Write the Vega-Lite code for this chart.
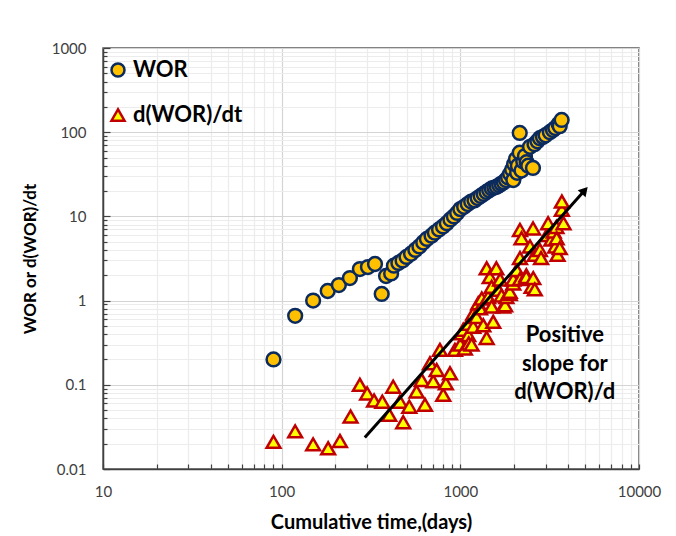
{
  "$schema": "https://vega.github.io/schema/vega-lite/v6.json",
  "width": 536,
  "height": 421,
  "autosize": {"type": "none"},
  "padding": {"left": 103, "top": 48, "right": 37, "bottom": 67},
  "background": "white",
  "config": {
    "font": "Lato",
    "view": {"stroke": "#595959", "strokeWidth": 1.5},
    "axis": {
      "labelFont": "Lato", "titleFont": "Lato",
      "labelFontSize": 15, "labelColor": "#404040",
      "titleFontSize": 17, "titleFontWeight": "bold", "titleColor": "#000000",
      "domainColor": "#404040", "domainWidth": 1.5,
      "tickColor": "#404040", "tickWidth": 1.2,
      "labelOverlap": false, "labelBound": false, "labelFlush": false
    }
  },
  "datasets": {
    "pts": [
      {"t": 90, "v": 0.20, "series": "WOR"},
      {"t": 119, "v": 0.66, "series": "WOR"},
      {"t": 150, "v": 1.0, "series": "WOR"},
      {"t": 181, "v": 1.3, "series": "WOR"},
      {"t": 209, "v": 1.53, "series": "WOR"},
      {"t": 241, "v": 1.85, "series": "WOR"},
      {"t": 274, "v": 2.37, "series": "WOR"},
      {"t": 304, "v": 2.5, "series": "WOR"},
      {"t": 333, "v": 2.72, "series": "WOR"},
      {"t": 363, "v": 1.2, "series": "WOR"},
      {"t": 384, "v": 1.96, "series": "WOR"},
      {"t": 410, "v": 2.1, "series": "WOR"},
      {"t": 425, "v": 2.6, "series": "WOR"},
      {"t": 450, "v": 2.8, "series": "WOR"},
      {"t": 475, "v": 3.0, "series": "WOR"},
      {"t": 500, "v": 3.3, "series": "WOR"},
      {"t": 530, "v": 3.6, "series": "WOR"},
      {"t": 560, "v": 4.0, "series": "WOR"},
      {"t": 590, "v": 4.4, "series": "WOR"},
      {"t": 620, "v": 4.9, "series": "WOR"},
      {"t": 650, "v": 5.4, "series": "WOR"},
      {"t": 690, "v": 5.9, "series": "WOR"},
      {"t": 720, "v": 6.4, "series": "WOR"},
      {"t": 760, "v": 7.0, "series": "WOR"},
      {"t": 800, "v": 7.6, "series": "WOR"},
      {"t": 840, "v": 8.3, "series": "WOR"},
      {"t": 880, "v": 9.2, "series": "WOR"},
      {"t": 920, "v": 10.0, "series": "WOR"},
      {"t": 960, "v": 11.0, "series": "WOR"},
      {"t": 1000, "v": 12.2, "series": "WOR"},
      {"t": 1050, "v": 13.0, "series": "WOR"},
      {"t": 1100, "v": 14.0, "series": "WOR"},
      {"t": 1150, "v": 15.0, "series": "WOR"},
      {"t": 1200, "v": 15.5, "series": "WOR"},
      {"t": 1250, "v": 16.5, "series": "WOR"},
      {"t": 1300, "v": 17.5, "series": "WOR"},
      {"t": 1350, "v": 18.5, "series": "WOR"},
      {"t": 1400, "v": 19.5, "series": "WOR"},
      {"t": 1450, "v": 20.5, "series": "WOR"},
      {"t": 1500, "v": 21.5, "series": "WOR"},
      {"t": 1550, "v": 22.0, "series": "WOR"},
      {"t": 1600, "v": 22.5, "series": "WOR"},
      {"t": 1650, "v": 23.5, "series": "WOR"},
      {"t": 1700, "v": 24.5, "series": "WOR"},
      {"t": 1750, "v": 25.5, "series": "WOR"},
      {"t": 1800, "v": 27, "series": "WOR"},
      {"t": 1850, "v": 29, "series": "WOR"},
      {"t": 1900, "v": 32, "series": "WOR"},
      {"t": 1950, "v": 36, "series": "WOR"},
      {"t": 1980, "v": 27, "series": "WOR"},
      {"t": 2000, "v": 42, "series": "WOR"},
      {"t": 2050, "v": 48, "series": "WOR"},
      {"t": 2080, "v": 33, "series": "WOR"},
      {"t": 2100, "v": 40, "series": "WOR"},
      {"t": 2150, "v": 98, "series": "WOR"},
      {"t": 2150, "v": 57, "series": "WOR"},
      {"t": 2200, "v": 35, "series": "WOR"},
      {"t": 2250, "v": 45, "series": "WOR"},
      {"t": 2300, "v": 52, "series": "WOR"},
      {"t": 2350, "v": 44, "series": "WOR"},
      {"t": 2400, "v": 40, "series": "WOR"},
      {"t": 2455, "v": 67, "series": "WOR"},
      {"t": 2550, "v": 37.6, "series": "WOR"},
      {"t": 2600, "v": 72, "series": "WOR"},
      {"t": 2700, "v": 78, "series": "WOR"},
      {"t": 2786, "v": 85, "series": "WOR"},
      {"t": 2900, "v": 88, "series": "WOR"},
      {"t": 3000, "v": 92, "series": "WOR"},
      {"t": 3170, "v": 100, "series": "WOR"},
      {"t": 3300, "v": 106, "series": "WOR"},
      {"t": 3400, "v": 112, "series": "WOR"},
      {"t": 3550, "v": 125, "series": "WOR"},
      {"t": 3600, "v": 118, "series": "WOR"},
      {"t": 3690, "v": 140, "series": "WOR"},
      {"t": 90, "v": 0.021, "series": "d(WOR)/dt"},
      {"t": 119, "v": 0.028, "series": "d(WOR)/dt"},
      {"t": 150, "v": 0.0196, "series": "d(WOR)/dt"},
      {"t": 182, "v": 0.0176, "series": "d(WOR)/dt"},
      {"t": 212, "v": 0.0215, "series": "d(WOR)/dt"},
      {"t": 243, "v": 0.042, "series": "d(WOR)/dt"},
      {"t": 274, "v": 0.10, "series": "d(WOR)/dt"},
      {"t": 301, "v": 0.079, "series": "d(WOR)/dt"},
      {"t": 329, "v": 0.065, "series": "d(WOR)/dt"},
      {"t": 366, "v": 0.063, "series": "d(WOR)/dt"},
      {"t": 400, "v": 0.044, "series": "d(WOR)/dt"},
      {"t": 421, "v": 0.095, "series": "d(WOR)/dt"},
      {"t": 459, "v": 0.063, "series": "d(WOR)/dt"},
      {"t": 479, "v": 0.036, "series": "d(WOR)/dt"},
      {"t": 518, "v": 0.055, "series": "d(WOR)/dt"},
      {"t": 569, "v": 0.083, "series": "d(WOR)/dt"},
      {"t": 608, "v": 0.114, "series": "d(WOR)/dt"},
      {"t": 634, "v": 0.058, "series": "d(WOR)/dt"},
      {"t": 676, "v": 0.18, "series": "d(WOR)/dt"},
      {"t": 705, "v": 0.11, "series": "d(WOR)/dt"},
      {"t": 737, "v": 0.15, "series": "d(WOR)/dt"},
      {"t": 769, "v": 0.26, "series": "d(WOR)/dt"},
      {"t": 802, "v": 0.076, "series": "d(WOR)/dt"},
      {"t": 830, "v": 0.104, "series": "d(WOR)/dt"},
      {"t": 875, "v": 0.137, "series": "d(WOR)/dt"},
      {"t": 933, "v": 0.26, "series": "d(WOR)/dt"},
      {"t": 1000, "v": 0.30, "series": "d(WOR)/dt"},
      {"t": 1018, "v": 0.41, "series": "d(WOR)/dt"},
      {"t": 1038, "v": 0.45, "series": "d(WOR)/dt"},
      {"t": 1060, "v": 0.27, "series": "d(WOR)/dt"},
      {"t": 1107, "v": 0.39, "series": "d(WOR)/dt"},
      {"t": 1107, "v": 0.53, "series": "d(WOR)/dt"},
      {"t": 1115, "v": 0.31, "series": "d(WOR)/dt"},
      {"t": 1156, "v": 0.30, "series": "d(WOR)/dt"},
      {"t": 1181, "v": 0.49, "series": "d(WOR)/dt"},
      {"t": 1181, "v": 0.70, "series": "d(WOR)/dt"},
      {"t": 1233, "v": 0.64, "series": "d(WOR)/dt"},
      {"t": 1259, "v": 0.93, "series": "d(WOR)/dt"},
      {"t": 1288, "v": 0.81, "series": "d(WOR)/dt"},
      {"t": 1318, "v": 1.06, "series": "d(WOR)/dt"},
      {"t": 1344, "v": 0.51, "series": "d(WOR)/dt"},
      {"t": 1404, "v": 0.36, "series": "d(WOR)/dt"},
      {"t": 1404, "v": 2.42, "series": "d(WOR)/dt"},
      {"t": 1430, "v": 1.1, "series": "d(WOR)/dt"},
      {"t": 1461, "v": 1.9, "series": "d(WOR)/dt"},
      {"t": 1497, "v": 0.85, "series": "d(WOR)/dt"},
      {"t": 1497, "v": 1.46, "series": "d(WOR)/dt"},
      {"t": 1528, "v": 0.56, "series": "d(WOR)/dt"},
      {"t": 1590, "v": 2.42, "series": "d(WOR)/dt"},
      {"t": 1630, "v": 1.34, "series": "d(WOR)/dt"},
      {"t": 1670, "v": 1.78, "series": "d(WOR)/dt"},
      {"t": 1700, "v": 1.15, "series": "d(WOR)/dt"},
      {"t": 1738, "v": 0.85, "series": "d(WOR)/dt"},
      {"t": 1780, "v": 0.88, "series": "d(WOR)/dt"},
      {"t": 1810, "v": 1.1, "series": "d(WOR)/dt"},
      {"t": 1890, "v": 1.2, "series": "d(WOR)/dt"},
      {"t": 1890, "v": 1.27, "series": "d(WOR)/dt"},
      {"t": 1977, "v": 1.6, "series": "d(WOR)/dt"},
      {"t": 1977, "v": 1.78, "series": "d(WOR)/dt"},
      {"t": 2070, "v": 2.3, "series": "d(WOR)/dt"},
      {"t": 2157, "v": 1.8, "series": "d(WOR)/dt"},
      {"t": 2157, "v": 3.2, "series": "d(WOR)/dt"},
      {"t": 2157, "v": 6.9, "series": "d(WOR)/dt"},
      {"t": 2200, "v": 5.5, "series": "d(WOR)/dt"},
      {"t": 2340, "v": 2.0, "series": "d(WOR)/dt"},
      {"t": 2340, "v": 1.9, "series": "d(WOR)/dt"},
      {"t": 2455, "v": 4.4, "series": "d(WOR)/dt"},
      {"t": 2507, "v": 1.46, "series": "d(WOR)/dt"},
      {"t": 2553, "v": 7.2, "series": "d(WOR)/dt"},
      {"t": 2560, "v": 1.85, "series": "d(WOR)/dt"},
      {"t": 2610, "v": 1.36, "series": "d(WOR)/dt"},
      {"t": 2610, "v": 3.5, "series": "d(WOR)/dt"},
      {"t": 2786, "v": 4.0, "series": "d(WOR)/dt"},
      {"t": 2830, "v": 3.2, "series": "d(WOR)/dt"},
      {"t": 3050, "v": 6.0, "series": "d(WOR)/dt"},
      {"t": 3100, "v": 8.3, "series": "d(WOR)/dt"},
      {"t": 3230, "v": 5.3, "series": "d(WOR)/dt"},
      {"t": 3330, "v": 6.6, "series": "d(WOR)/dt"},
      {"t": 3400, "v": 4.4, "series": "d(WOR)/dt"},
      {"t": 3450, "v": 7.5, "series": "d(WOR)/dt"},
      {"t": 3460, "v": 5.5, "series": "d(WOR)/dt"},
      {"t": 3500, "v": 3.5, "series": "d(WOR)/dt"},
      {"t": 3600, "v": 4.2, "series": "d(WOR)/dt"},
      {"t": 3700, "v": 12.0, "series": "d(WOR)/dt"},
      {"t": 3700, "v": 15.0, "series": "d(WOR)/dt"},
      {"t": 3780, "v": 8.3, "series": "d(WOR)/dt"}
    ],
    "trend": [
      {"t": 292, "v": 0.0236},
      {"t": 4900, "v": 19.8}
    ],
    "single": [{}]
  },
  "layer": [
    {
      "data": {"name": "pts"},
      "mark": {"type": "point", "strokeWidth": 2.5, "opacity": 1, "size": 190},
      "encoding": {
        "x": {
          "field": "t", "type": "quantitative",
          "scale": {"type": "log", "domain": [10, 10000], "nice": false},
          "axis": {
            "title": "Cumulative time,(days)",
            "titleFontSize": 20,
            "titlePadding": 13,
            "values": [10,20,30,40,50,60,70,80,90,100,200,300,400,500,600,700,800,900,1000,2000,3000,4000,5000,6000,7000,8000,9000,10000],
            "labelExpr": "indexof([10,100,1000,10000], datum.value) >= 0 ? '' + datum.value : ''",
            "grid": true,
            "gridColor": {"condition": {"test": "indexof([10,100,1000,10000], datum.value) >= 0", "value": "#d4d4d4"}, "value": "#ececec"},
            "gridWidth": 1.2,
            "tickSize": -5,
            "labelPadding": 20
          }
        },
        "y": {
          "field": "v", "type": "quantitative",
          "scale": {"type": "log", "domain": [0.01, 1000], "nice": false},
          "axis": {
            "title": "WOR or d(WOR)/dt",
            "titlePadding": 12,
            "values": [0.01,0.02,0.03,0.04,0.05,0.06,0.07,0.08,0.09,0.1,0.2,0.3,0.4,0.5,0.6,0.7,0.8,0.9,1,2,3,4,5,6,7,8,9,10,20,30,40,50,60,70,80,90,100,200,300,400,500,600,700,800,900,1000],
            "labelExpr": "indexof([0.01,0.1,1,10,100,1000], datum.value) >= 0 ? '' + datum.value : ''",
            "grid": true,
            "gridColor": {"condition": {"test": "indexof([0.01,0.1,1,10,100,1000], datum.value) >= 0", "value": "#d4d4d4"}, "value": "#ececec"},
            "gridWidth": 1.2,
            "tickSize": {"condition": {"test": "indexof([0.01,0.1,1,10,100,1000], datum.value) >= 0", "value": -7}, "value": -4},
            "labelPadding": 24
          }
        },
        "shape": {
          "field": "series", "type": "nominal",
          "scale": {"domain": ["WOR", "d(WOR)/dt"], "range": ["circle", "triangle-up"]},
          "legend": {
            "title": null, "orient": "none", "legendX": 4, "legendY": 11, "padding": 0,
            "labelFontSize": 22, "labelFontWeight": "bold", "labelColor": "#000000", "labelFont": "Lato",
            "symbolSize": 170, "symbolStrokeWidth": 2.5, "rowPadding": 22, "labelOffset": 4
          }
        },
        "fill": {
          "field": "series", "type": "nominal",
          "scale": {"domain": ["WOR", "d(WOR)/dt"], "range": ["#FFC000", "#FFFF00"]}
        },
        "stroke": {
          "field": "series", "type": "nominal",
          "scale": {"domain": ["WOR", "d(WOR)/dt"], "range": ["#0B2A5E", "#C00000"]}
        }
      }
    },
    {
      "data": {"name": "trend"},
      "mark": {"type": "line", "color": "#000000", "strokeWidth": 3},
      "encoding": {
        "x": {"field": "t", "type": "quantitative"},
        "y": {"field": "v", "type": "quantitative"}
      }
    },
    {
      "data": {"name": "single"},
      "mark": {"type": "point", "shape": "triangle", "angle": 41.6, "size": 110, "filled": true, "color": "#000000", "opacity": 1},
      "encoding": {
        "x": {"datum": 4900},
        "y": {"datum": 19.8}
      }
    },
    {
      "data": {"name": "single"},
      "mark": {"type": "text", "text": ["Positive", "slope for", "d(WOR)/d"], "font": "Lato", "fontSize": 22, "fontWeight": "bold", "align": "center", "baseline": "middle", "lineHeight": 28.5, "color": "#000000"},
      "encoding": {
        "x": {"datum": 3845},
        "y": {"datum": 0.39}
      }
    }
  ]
}
